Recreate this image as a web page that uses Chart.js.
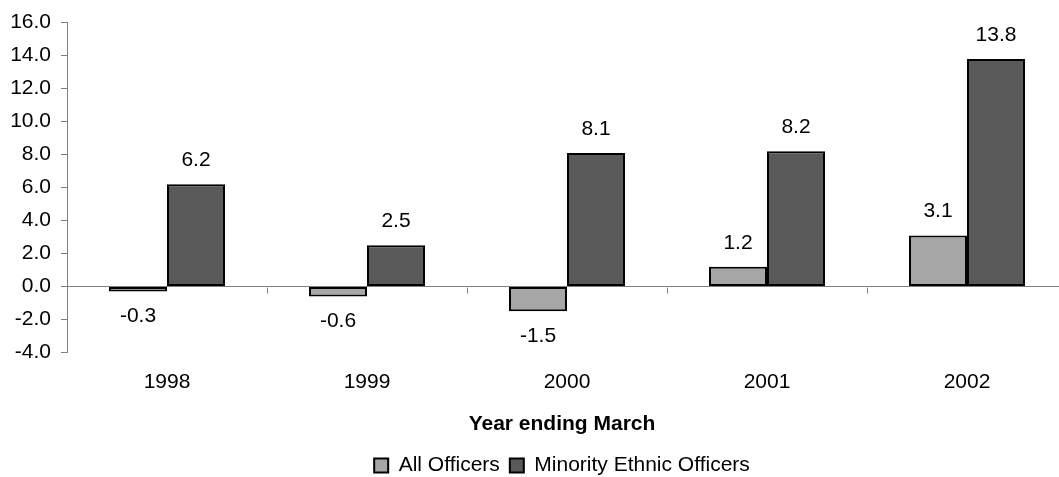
<!DOCTYPE html>
<html>
<head>
<meta charset="utf-8">
<script src="https://cdn.jsdelivr.net/npm/chart.js@4/dist/chart.umd.min.js"></script>
<style>
  html, body { margin: 0; padding: 0; background: #ffffff; overflow: hidden; }
  #wrap { width: 1059px; height: 477px; overflow: hidden; position: relative; }
  canvas { display: block; }
</style>
</head>
<body>
<div id="wrap"><canvas id="c" width="1124" height="477"></canvas></div>
<script>
const categories = ['1998', '1999', '2000', '2001', '2002'];
const allOfficers = [-0.3, -0.6, -1.5, 1.2, 3.1];
const minorityEthnicOfficers = [6.2, 2.5, 8.1, 8.2, 13.8];
const seriesNames = ['All Officers', 'Minority Ethnic Officers'];
const yTickMin = -4, yTickMax = 16, yTickStep = 2;
const axisTitle = 'Year ending March';

const FONT = "'Liberation Sans', Arial, sans-serif";

const valueLabels = {
  id: 'valueLabels',
  afterDatasetsDraw(chart) {
    const ctx = chart.ctx;
    ctx.save();
    ctx.font = '21px ' + FONT;
    ctx.fillStyle = '#000000';
    ctx.textAlign = 'center';
    ctx.textBaseline = 'middle';
    chart.data.datasets.forEach((ds, di) => {
      const meta = chart.getDatasetMeta(di);
      meta.data.forEach((bar, i) => {
        const v = ds.data[i];
        const y = v >= 0 ? bar.y - 24 : bar.y + 25;
        ctx.fillText(v.toFixed(1), bar.x, y);
      });
    });
    ctx.restore();
  }
};

const categoryTicks = {
  id: 'categoryTicks',
  beforeDatasetsDraw(chart) {
    const xs = chart.scales.x, ys = chart.scales.y;
    const ctx = chart.ctx;
    const zeroY = Math.round(ys.getPixelForValue(0)) + 0.5;
    const half = (xs.getPixelForValue(1) - xs.getPixelForValue(0)) / 2;
    ctx.save();
    ctx.strokeStyle = '#808080';
    ctx.lineWidth = 1;
    for (let i = 0; i < categories.length; i++) {
      const x = Math.round(xs.getPixelForValue(i) + half) + 0.5;
      ctx.beginPath();
      ctx.moveTo(x, zeroY);
      ctx.lineTo(x, zeroY + 6);
      ctx.stroke();
    }
    ctx.restore();
  }
};

new Chart(document.getElementById('c'), {
  type: 'bar',
  data: {
    labels: categories,
    datasets: [
      {
        label: seriesNames[0],
        data: allOfficers,
        backgroundColor: '#a6a6a6',
        borderColor: '#000000',
        borderWidth: 2,
        borderSkipped: false,
        categoryPercentage: 0.58,
        barPercentage: 1.0
      },
      {
        label: seriesNames[1],
        data: minorityEthnicOfficers,
        backgroundColor: '#595959',
        borderColor: '#000000',
        borderWidth: 2,
        borderSkipped: false,
        categoryPercentage: 0.58,
        barPercentage: 1.0
      }
    ]
  },
  options: {
    responsive: false,
    animation: false,
    devicePixelRatio: 1,
    layout: { padding: { top: 20, left: 0, right: 0, bottom: -9 } },
    scales: {
      x: {
        grid: { display: false, drawTicks: false },
        border: { display: false },
        ticks: { color: '#000000', font: { family: FONT, size: 21 }, padding: 17, maxRotation: 0 }
      },
      y: {
        min: yTickMin,
        max: yTickMax,
        afterFit(s) { s.width = 67; },
        ticks: {
          stepSize: yTickStep,
          color: '#000000',
          font: { family: FONT, size: 21 },
          padding: 10,
          callback: v => Number(v).toFixed(1)
        },
        grid: {
          drawOnChartArea: true,
          color: c => (c.tick && c.tick.value === 0) ? '#808080' : 'rgba(0,0,0,0)',
          tickColor: '#808080',
          tickLength: 6,
          lineWidth: 1
        },
        border: { display: true, color: '#808080', width: 1 }
      },
      y2: {
        position: 'right',
        display: true,
        afterFit(s) { s.width = 57; },
        ticks: { display: false },
        grid: { display: false, drawTicks: false },
        border: { display: false }
      }
    },
    plugins: {
      legend: {
        position: 'bottom',
        labels: {
          color: '#000000',
          font: { family: FONT, size: 21 },
          boxWidth: 14,
          boxHeight: 14,
          padding: 10
        }
      },
      title: {
        display: true,
        text: axisTitle,
        position: 'bottom',
        weight: 500,
        color: '#000000',
        font: { family: FONT, size: 21, weight: 'bold' },
        padding: { top: 0, bottom: 8 }
      },
      tooltip: { enabled: false }
    }
  },
  plugins: [categoryTicks, valueLabels]
});
</script>
</body>
</html>
